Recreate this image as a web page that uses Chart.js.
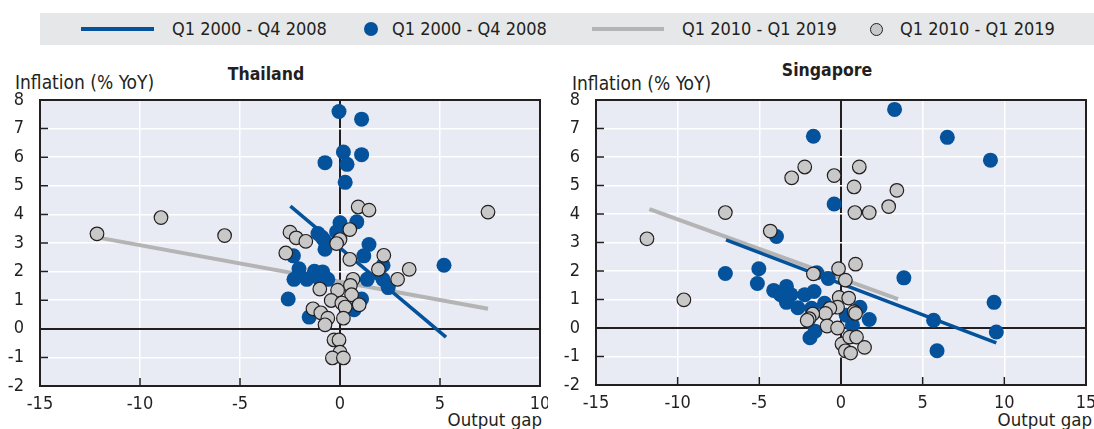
<!DOCTYPE html>
<html>
<head>
<meta charset="utf-8">
<script src="https://cdn.jsdelivr.net/npm/chart.js@4"></script>
<style>
  body { margin: 0; width: 1094px; height: 429px; background: #fff; position: relative; overflow: hidden;
         font-family: "DejaVu Sans Condensed", "Liberation Sans", sans-serif; color: #231f20; }
  .abs { position: absolute; white-space: nowrap; line-height: 1; }
  canvas { position: absolute; }
  #band { position: absolute; left: 40px; top: 13px; width: 1054px; height: 32px; background: #e6e7e8; }
</style>
</head>
<body>
<div id="band"></div>
<div class="abs" style="left:81px;top:27px;width:73px;height:3.5px;background:#03529b"></div>
<div class="abs" style="left:172px;top:20px;font-size:18px">Q1 2000 - Q4 2008</div>
<div class="abs" style="left:364px;top:22px;width:14px;height:14px;border-radius:50%;background:#03529b"></div>
<div class="abs" style="left:392px;top:20px;font-size:18px">Q1 2000 - Q4 2008</div>
<div class="abs" style="left:592px;top:27px;width:72px;height:4px;background:#b4b4b4"></div>
<div class="abs" style="left:682px;top:20px;font-size:18px">Q1 2010 - Q1 2019</div>
<div class="abs" style="left:870px;top:23px;width:11px;height:11px;border-radius:50%;background:#c8c8c8;border:1px solid #231f20"></div>
<div class="abs" style="left:900px;top:20px;font-size:18px">Q1 2010 - Q1 2019</div>

<div class="abs" style="left:216px;top:66px;width:100px;text-align:center;font-size:17.5px;font-weight:bold">Thailand</div>
<div class="abs" style="left:777px;top:62px;width:100px;text-align:center;font-size:17.5px;font-weight:bold">Singapore</div>
<div class="abs" style="left:15px;top:73px;font-size:19px">Inflation (% YoY)</div>
<div class="abs" style="left:572px;top:74px;font-size:19px">Inflation (% YoY)</div>
<div class="abs" style="left:442px;top:411px;width:100px;text-align:right;font-size:18.5px">Output gap</div>
<div class="abs" style="left:992px;top:411px;width:100px;text-align:right;font-size:18.5px">Output gap</div>

<canvas id="thailand" width="548" height="339" style="left:0;top:90px"></canvas>
<canvas id="singapore" width="538" height="339" style="left:556px;top:90px"></canvas>

<script>
// Thailand, output gap vs inflation
const thailandEarly = [
  [-0.05, 7.6], [1.08, 7.33], [0.17, 6.18], [1.08, 6.09], [-0.75, 5.81], [0.35, 5.75],
  [0.26, 5.12], [0.84, 3.74], [0, 3.71], [-0.17, 3.39], [-1.1, 3.33], [-0.79, 3.1],
  [-0.9, 3.2], [-0.75, 2.78], [1.45, 2.95], [1.19, 2.55], [-2.33, 2.55], [-2.05, 2.1],
  [2.15, 2.22], [5.2, 2.22], [-1.28, 2.01], [-0.87, 1.99], [-1.14, 1.81], [-2.3, 1.73],
  [-1.66, 1.73], [-0.61, 1.73], [1.36, 1.73], [2.15, 1.73], [2.41, 1.44], [-2.59, 1.04],
  [1.08, 1.04], [-1.54, 0.41], [0.7, 0.67]
];
const thailandLate = [
  [-12.15, 3.32], [-8.95, 3.89], [-5.77, 3.26], [7.4, 4.08], [0.91, 4.26], [1.45, 4.15],
  [0.49, 3.47], [-2.5, 3.38], [-2.19, 3.18], [-1.71, 3.06], [0, 3.12], [-0.17, 2.98],
  [-2.71, 2.65], [2.19, 2.57], [0.49, 2.43], [1.92, 2.08], [3.46, 2.08], [2.88, 1.73],
  [0.65, 1.73], [0.52, 1.52], [-1.01, 1.39], [-0.12, 1.35], [0.58, 1.19], [-0.44, 0.99],
  [0.09, 0.9], [0.26, 0.76], [0.96, 0.84], [-1.35, 0.7], [-0.96, 0.56], [-0.61, 0.37],
  [-0.75, 0.14], [0.17, 0.37], [-0.3, -0.39], [-0.05, -0.39], [0, -0.82], [-0.38, -1.02],
  [0.17, -1.02]
];
const thailandEarlyFit = [[-2.48, 4.29], [5.3, -0.29]];
const thailandLateFit = [[-12.0, 3.18], [7.4, 0.7]];

// Singapore
const singaporeEarly = [
  [3.28, 7.67], [-1.69, 6.73], [6.51, 6.69], [9.15, 5.89], [-0.42, 4.35], [-3.95, 3.21],
  [-7.08, 1.91], [-5.03, 2.08], [-5.12, 1.56], [3.85, 1.76], [-0.78, 1.74], [-1.48, 1.94],
  [-4.12, 1.32], [-3.34, 1.46], [-3.7, 1.17], [-3.07, 1.17], [-3.34, 0.9], [-2.64, 0.71],
  [-2.22, 1.17], [-1.65, 1.28], [9.37, 0.9], [1.16, 0.73], [1.73, 0.3], [5.67, 0.27],
  [9.51, -0.14], [5.88, -0.8], [-1.9, -0.34], [-1.59, -0.11], [0.7, 0.1], [0.32, 0.45],
  [-1.01, 0.87], [-1.8, 0.69]
];
const singaporeLate = [
  [-11.88, 3.13], [-9.62, 0.99], [-7.08, 4.05], [-4.33, 3.4], [-3.02, 5.27], [-2.22, 5.65],
  [-0.42, 5.35], [1.12, 5.65], [0.8, 4.95], [3.42, 4.83], [2.92, 4.26], [0.85, 4.05],
  [1.73, 4.05], [0.89, 2.24], [-0.15, 2.08], [0.27, 1.68], [-1.69, 1.9], [-0.11, 1.07],
  [0.47, 1.05], [-0.21, 0.73], [-0.68, 0.69], [-0.95, 0.51], [-1.73, 0.49], [-1.95, 0.33],
  [-2.07, 0.27], [0.8, 0.57], [0.89, 0.51], [-0.85, 0.07], [-0.21, 0], [0.06, -0.56],
  [0.27, -0.8], [0.59, -0.88], [0.53, -0.32], [0.95, -0.32], [1.44, -0.68]
];
const singaporeEarlyFit = [[-7.04, 3.09], [9.51, -0.52]];
const singaporeLateFit = [[-11.73, 4.17], [3.49, 1.01]];

const yTicks = { min: -2, max: 8, step: 1 };

const BLUE = "#03529b";
const GREY_FILL = "#c8c8c8";
const GREY_LINE = "#b4b4b4";
const INK = "#231f20";
const FONT = "'DejaVu Sans Condensed', 'Liberation Sans', sans-serif";

const toXY = (pairs) => pairs.map((p) => ({ x: p[0], y: p[1] }));

// plot background, frame and inward tick marks
const framePlugin = {
  id: "frame",
  beforeDraw(chart) {
    const a = chart.chartArea;
    const ctx = chart.ctx;
    ctx.save();
    ctx.fillStyle = "#e8eaf4";
    ctx.fillRect(a.left, a.top, a.right - a.left, a.bottom - a.top);
    ctx.restore();
  },
  beforeDatasetsDraw(chart) {
    const a = chart.chartArea;
    const ctx = chart.ctx;
    const x = chart.scales.x;
    const y = chart.scales.y;
    ctx.save();
    ctx.strokeStyle = INK;
    ctx.lineWidth = 1.5;
    ctx.beginPath();
    x.ticks.forEach((t) => {
      const px = x.getPixelForValue(t.value);
      ctx.moveTo(px, a.bottom);
      ctx.lineTo(px, a.bottom - 8);
    });
    y.ticks.forEach((t) => {
      const py = y.getPixelForValue(t.value);
      ctx.moveTo(a.left, py);
      ctx.lineTo(a.left + 8, py);
    });
    ctx.stroke();
    ctx.lineWidth = 2;
    ctx.strokeRect(a.left, a.top, a.right - a.left, a.bottom - a.top);
    ctx.restore();
  },
};

function makeChart(id, early, late, earlyFit, lateFit, xMax, pad, xHeight) {
  const ctx = document.getElementById(id).getContext("2d");
  const gridColor = (c) => (c.tick && c.tick.value === 0 ? INK : "#ffffff");
  const gridWidth = (c) => (c.tick && c.tick.value === 0 ? 2 : 1.5);
  return new Chart(ctx, {
    type: "scatter",
    data: {
      datasets: [
        {
          label: "Q1 2010 - Q1 2019",
          data: toXY(late),
          order: 0,
          pointRadius: 6.8,
          pointBackgroundColor: GREY_FILL,
          pointBorderColor: INK,
          pointBorderWidth: 1.2,
        },
        {
          label: "Q1 2000 - Q4 2008",
          data: toXY(early),
          order: 1,
          pointRadius: 7.5,
          pointBackgroundColor: BLUE,
          pointBorderWidth: 0,
        },
        {
          label: "Q1 2000 - Q4 2008 fit",
          data: toXY(earlyFit),
          order: 2,
          showLine: true,
          pointRadius: 0,
          borderColor: BLUE,
          borderWidth: 3.5,
        },
        {
          label: "Q1 2010 - Q1 2019 fit",
          data: toXY(lateFit),
          order: 3,
          showLine: true,
          pointRadius: 0,
          borderColor: GREY_LINE,
          borderWidth: 4,
        },
      ],
    },
    options: {
      responsive: false,
      animation: false,
      devicePixelRatio: 1,
      layout: { padding: pad },
      plugins: {
        legend: { display: false },
        tooltip: { enabled: false },
      },
      scales: {
        x: {
          type: "linear",
          min: -15,
          max: xMax,
          border: { display: false },
          grid: { color: gridColor, lineWidth: gridWidth, drawTicks: false },
          ticks: {
            stepSize: 5,
            padding: 8,
            color: INK,
            font: { size: 18, family: FONT },
          },
          afterFit(scale) {
            scale.height = xHeight;
            scale.paddingLeft = 0;
            scale.paddingRight = 0;
          },
        },
        y: {
          type: "linear",
          min: yTicks.min,
          max: yTicks.max,
          border: { display: false },
          grid: { color: gridColor, lineWidth: gridWidth, drawTicks: false },
          ticks: {
            stepSize: yTicks.step,
            padding: 16,
            color: INK,
            font: { size: 18, family: FONT },
          },
          afterFit(scale) {
            scale.width = 40;
            scale.paddingTop = 0;
            scale.paddingBottom = 0;
          },
        },
      },
    },
    plugins: [framePlugin],
  });
}

makeChart("thailand", thailandEarly, thailandLate, thailandEarlyFit, thailandLateFit, 10,
  { top: 10, right: 6, left: 0, bottom: 0 }, 43);
makeChart("singapore", singaporeEarly, singaporeLate, singaporeEarlyFit, singaporeLateFit, 15,
  { top: 10, right: 2, left: 0, bottom: 0 }, 44);
</script>
</body>
</html>
